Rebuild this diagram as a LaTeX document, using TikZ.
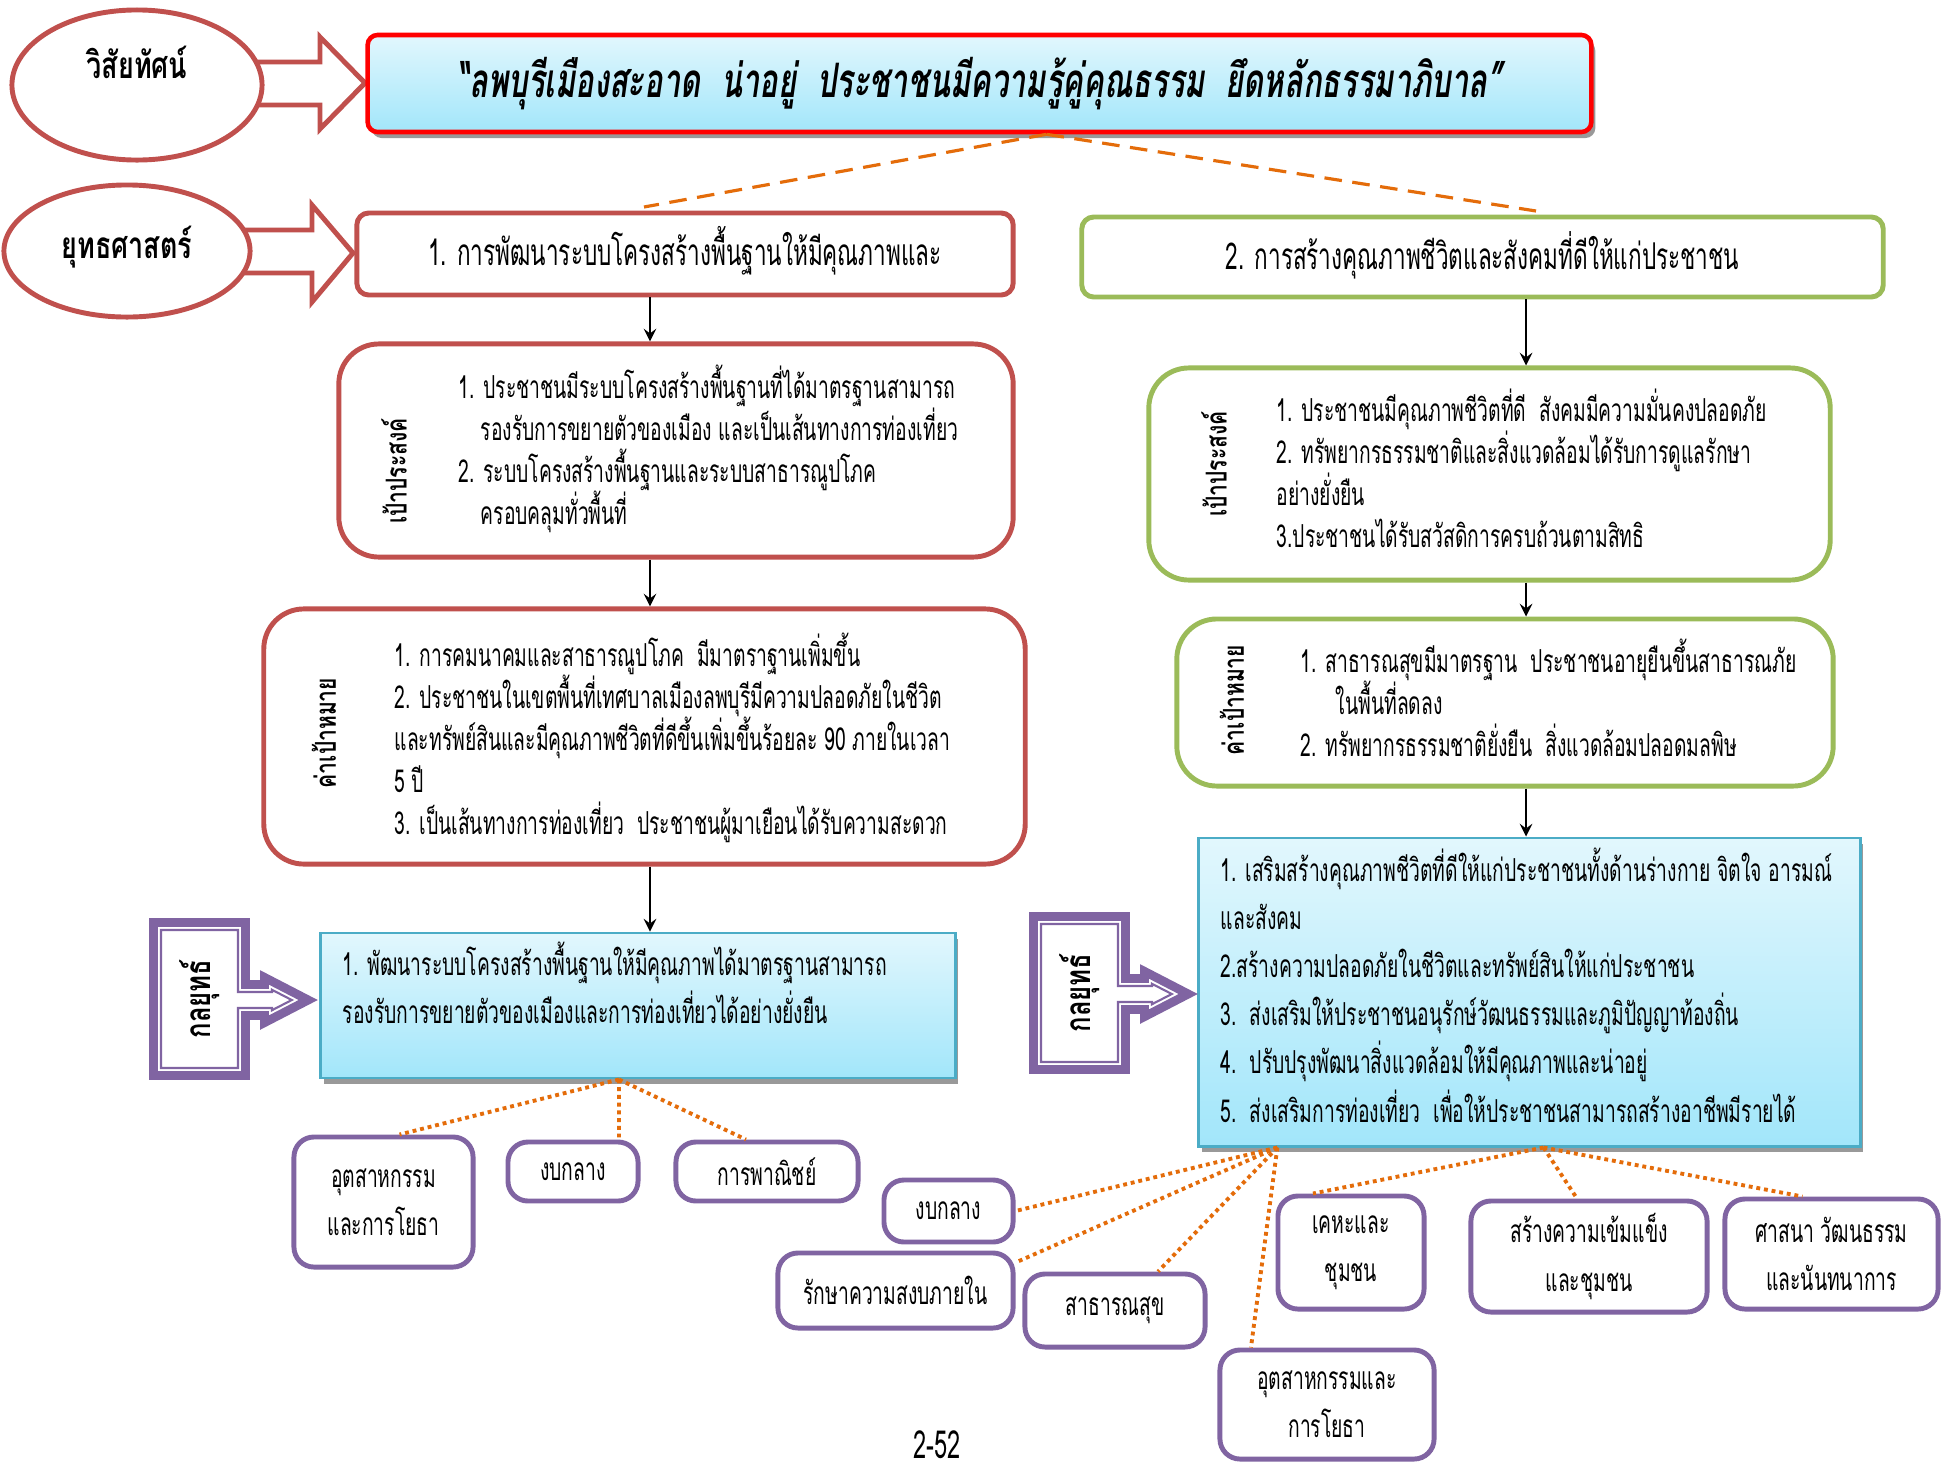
\documentclass[tikz,border=0pt]{standalone}
\usepackage{fontspec}
\usepackage{tikz}
\usetikzlibrary{shapes,arrows,positioning,calc,shadows}
\newfontfamily\thaifont[Script=Thai, FakeStretch=0.61]{Loma}
\newfontfamily\thaihead[Script=Thai, FakeStretch=0.65]{Loma}
\newfontfamily\thaibf[Script=Thai, FakeStretch=0.73]{Loma}
\definecolor{redline}{HTML}{C0504D}
\definecolor{greenline}{HTML}{9BBB59}
\definecolor{purpleline}{HTML}{8064A2}
\definecolor{tealline}{HTML}{4BACC6}
\definecolor{dotorange}{HTML}{E46C0A}
\definecolor{skytop}{HTML}{E2F7FD}
\definecolor{skybottom}{HTML}{A2E6FA}
\tikzset{
    tacticpic/.pic={
        \draw[purpleline, line width=2.5pt, fill=white, line join=miter]
            (4.5,4.5) -- (96.5,4.5) -- (96.5,66.5) -- (115.5,66.5) -- (115.5,59.4)
            -- (159.2,82) -- (115.5,104.6) -- (115.5,97.5) -- (96.5,97.5)
            -- (96.5,157.5) -- (4.5,157.5) -- cycle;
        \draw[purpleline, line width=0.6pt, line join=miter]
            (12,12) -- (89,12) -- (89,74) -- (123,74) -- (123,71.8) -- (142.8,82)
            -- (123,92.2) -- (123,90) -- (89,90) -- (89,150) -- (12,150) -- cycle;
        \node[tacticlabel] (label) at (51,81) {กลยุทธ์};
    }
}

\begin{document}
\begin{tikzpicture}[
    x=0.01cm, y=-0.01cm,
    arrow/.style={->, >=stealth, line width=0.6pt},
    dashlink/.style={draw=dotorange, line width=0.9pt, dash pattern=on 5pt off 3pt},
    dotlink/.style={draw=dotorange, line width=1.1pt, dash pattern=on 1.1pt off 1.1pt},
    oval/.style={ellipse, draw=redline, line width=1.4pt, fill=white, inner sep=0pt,
        font=\thaibf\bfseries\fontsize{10.5}{12}\selectfont},
    bigarrow/.style={draw=redline, line width=1.4pt, fill=white, line join=miter},
    visionbox/.style={rectangle, draw=red, line width=1.3pt, rounded corners=0.1cm,
        top color=skytop, bottom color=skybottom,
        drop shadow={shadow xshift=0.04cm, shadow yshift=-0.06cm, fill=black!40, opacity=1},
        font=\thaihead\bfseries\itshape\fontsize{13.5}{15}\selectfont},
    headbox/.style={rectangle, line width=1.4pt, fill=white, rounded corners=0.12cm,
        font=\thaifont\fontsize{10.5}{12}\selectfont},
    goalbox/.style={rectangle, line width=1.4pt, fill=white, rounded corners=0.4cm},
    planbox/.style={rectangle, draw=tealline, line width=0.8pt,
        top color=skytop, bottom color=skybottom,
        drop shadow={shadow xshift=0.03cm, shadow yshift=-0.06cm, fill=black!40, opacity=1}},
    bodytext/.style={anchor=north west, inner sep=0pt, align=left,
        font=\thaifont\fontsize{9}{11.95}\selectfont},
    plantext/.style={anchor=north west, inner sep=0pt, align=left,
        font=\thaifont\fontsize{9}{13.7}\selectfont},
    sidelabel/.style={rotate=90, inner sep=0pt,
        font=\thaibf\bfseries\fontsize{8.2}{10}\selectfont},
    tacticlabel/.style={rotate=90, inner sep=0pt,
        font=\thaibf\bfseries\fontsize{10}{12}\selectfont},
    unitbox/.style={rectangle, draw=purpleline, line width=1.4pt, fill=white,
        rounded corners=0.2cm, align=center, inner sep=0pt,
        font=\thaifont\fontsize{9}{13.7}\selectfont}
]
    \path[use as bounding box, fill=white] (0,0) rectangle (1942,1463);

    % Vision
    \draw[bigarrow] (240,62) -- (320,62) -- (320,37) -- (365,83) -- (320,129) -- (320,105) -- (240,105) -- cycle;
    \node[oval, minimum width=2.5cm, minimum height=1.5cm] (vision) at (137,85) {\raisebox{13pt}{วิสัยทัศน์}};
    \node[visionbox, minimum width=12.23cm, minimum height=0.97cm] (visbox) at (979.5,83.5)
        {“ลพบุรีเมืองสะอาด\ \ น่าอยู่\ \ ประชาชนมีความรู้คู่คุณธรรม\ \ ยึดหลักธรรมาภิบาล”};

    % Strategy
    \draw[bigarrow] (230,230) -- (312,230) -- (312,205) -- (353,253) -- (312,302) -- (312,273) -- (230,273) -- cycle;
    \node[oval, minimum width=2.46cm, minimum height=1.32cm] (strategy) at (127,251) {\raisebox{5pt}{ยุทธศาสตร์}};

    \node[headbox, draw=redline, minimum width=6.56cm, minimum height=0.82cm] (box1) at (685,254)
        {\raisebox{4.5pt}{1. การพัฒนาระบบโครงสร้างพื้นฐานให้มีคุณภาพและ}};
    \node[headbox, draw=greenline, minimum width=8.01cm, minimum height=0.8cm] (box2) at (1482.5,257)
        {\raisebox{3.5pt}{2. การสร้างคุณภาพชีวิตและสังคมที่ดีให้แก่ประชาชน}};

    \coordinate (dashL) at (644,207);
    \coordinate (dashR) at (1536,211);
    \draw[dashlink] ([xshift=0.67cm]visbox.south) -- (dashL);
    \draw[dashlink] ([xshift=0.67cm]visbox.south) -- (dashR);

    % Left column
    \node[goalbox, draw=redline, minimum width=6.74cm, minimum height=2.13cm] (objL) at (676,450.5) {};
    \node[sidelabel] (objLlabel) at (394,471) {เป้าประสงค์};
    \node[bodytext] (objLtext) at (458,364) {1. ประชาชนมีระบบโครงสร้างพื้นฐานที่ได้มาตรฐานสามารถ\\
        \hspace*{0.22cm}รองรับการขยายตัวของเมือง และเป็นเส้นทางการท่องเที่ยว\\
        2. ระบบโครงสร้างพื้นฐานและระบบสาธารณูปโภค\\
        \hspace*{0.22cm}ครอบคลุมทั่วพื้นที่};

    \node[goalbox, draw=redline, minimum width=7.61cm, minimum height=2.55cm] (targetL) at (644.5,736.5) {};
    \node[sidelabel] (targetLlabel) at (324,733) {ค่าเป้าหมาย};
    \node[bodytext] (targetLtext) at (394,632) {1. การคมนาคมและสาธารณูปโภค\ \ มีมาตราฐานเพิ่มขึ้น\\
        2. ประชาชนในเขตพื้นที่เทศบาลเมืองลพบุรีมีความปลอดภัยในชีวิต\\
        และทรัพย์สินและมีคุณภาพชีวิตที่ดีขึ้นเพิ่มขึ้นร้อยละ 90 ภายในเวลา\\
        5 ปี\\
        3. เป็นเส้นทางการท่องเที่ยว\ \ ประชาชนผู้มาเยือนได้รับความสะดวก};

    \node[planbox, minimum width=6.34cm, minimum height=1.45cm] (stratL) at (638,1005.5) {};
    \node[plantext] (stratLtext) at (342,941) {1. พัฒนาระบบโครงสร้างพื้นฐานให้มีคุณภาพได้มาตรฐานสามารถ\\
        รองรับการขยายตัวของเมืองและการท่องเที่ยวได้อย่างยั่งยืน};
    \pic (tacL) at (149,918) {tacticpic};

    % Right column
    \node[goalbox, draw=greenline, minimum width=6.81cm, minimum height=2.12cm] (objR) at (1489.5,474) {};
    \node[sidelabel] (objRlabel) at (1214,464) {เป้าประสงค์};
    \node[bodytext] (objRtext) at (1276,388) {1. ประชาชนมีคุณภาพชีวิตที่ดี\ \ สังคมมีความมั่นคงปลอดภัย\\
        2. ทรัพยากรธรรมชาติและสิ่งแวดล้อมได้รับการดูแลรักษา\\
        อย่างยั่งยืน\\
        3.ประชาชนได้รับสวัสดิการครบถ้วนตามสิทธิ};

    \node[goalbox, draw=greenline, minimum width=6.56cm, minimum height=1.67cm] (targetR) at (1505,702.5) {};
    \node[sidelabel] (targetRlabel) at (1232,700) {ค่าเป้าหมาย};
    \node[bodytext] (targetRtext) at (1300,638) {1. สาธารณสุขมีมาตรฐาน\ \ ประชาชนอายุยืนขึ้นสาธารณภัย\\
        \hspace*{0.35cm}ในพื้นที่ลดลง\\
        2. ทรัพยากรธรรมชาติยั่งยืน\ \ สิ่งแวดล้อมปลอดมลพิษ};

    \node[planbox, minimum width=6.61cm, minimum height=3.08cm] (stratR) at (1529.5,992) {};
    \node[plantext] (stratRtext) at (1220,847) {1. เสริมสร้างคุณภาพชีวิตที่ดีให้แก่ประชาชนทั้งด้านร่างกาย จิตใจ อารมณ์\\
        และสังคม\\
        2.สร้างความปลอดภัยในชีวิตและทรัพย์สินให้แก่ประชาชน\\
        3.\ \ ส่งเสริมให้ประชาชนอนุรักษ์วัฒนธรรมและภูมิปัญญาท้องถิ่น\\
        4.\ \ ปรับปรุงพัฒนาสิ่งแวดล้อมให้มีคุณภาพและน่าอยู่\\
        5.\ \ ส่งเสริมการท่องเที่ยว\ \ เพื่อให้ประชาชนสามารถสร้างอาชีพมีรายได้};
    \pic (tacR) at (1029,912) {tacticpic};

    % Units, left
    \node[unitbox, minimum width=1.79cm, minimum height=1.3cm] (bl1) at (383.5,1202) {อุตสาหกรรม\\และการโยธา};
    \node[unitbox, minimum width=1.3cm, minimum height=0.59cm] (bl2) at (573,1171.5) {งบกลาง};
    \node[unitbox, minimum width=1.82cm, minimum height=0.59cm] (bl3) at (767,1171.5) {\raisebox{-1.5pt}{การพาณิชย์}};

    % Units, right
    \node[unitbox, minimum width=1.29cm, minimum height=0.62cm] (br1) at (948.5,1211) {งบกลาง};
    \node[unitbox, minimum width=2.35cm, minimum height=0.75cm] (br2) at (895.5,1290.5) {รักษาความสงบภายใน};
    \node[unitbox, minimum width=1.8cm, minimum height=0.73cm] (br3) at (1115,1310.5) {สาธารณสุข};
    \node[unitbox, minimum width=2.14cm, minimum height=1.09cm] (br4) at (1327,1404.5) {อุตสาหกรรมและ\\การโยธา};
    \node[unitbox, minimum width=1.46cm, minimum height=1.13cm] (br5) at (1351,1252.5) {เคหะและ\\ชุมชน};
    \node[unitbox, minimum width=2.36cm, minimum height=1.11cm] (br6) at (1589,1256.5) {สร้างความเข้มแข็ง\\และชุมชน};
    \node[unitbox, minimum width=2.13cm, minimum height=1.1cm] (br7) at (1831.5,1254) {ศาสนา วัฒนธรรม\\และนันทนาการ};

    \node[font=\thaifont\fontsize{11}{12}\selectfont] (page) at (937,1445) {2-52};

    % Arrows
    \coordinate (colL) at (650,0);
    \coordinate (colR) at (1526,0);
    \draw[arrow] (box1.south -| colL) -- (objL.north -| colL);
    \draw[arrow] (objL.south -| colL) -- (targetL.north -| colL);
    \draw[arrow] (targetL.south -| colL) -- (stratL.north -| colL);
    \draw[arrow] (box2.south -| colR) -- (objR.north -| colR);
    \draw[arrow] (objR.south -| colR) -- (targetR.north -| colR);
    \draw[arrow] (targetR.south -| colR) -- (stratR.north -| colR);

    % Dotted links
    \draw[dotlink] ([xshift=-0.19cm]stratL.south) -- ([xshift=0.16cm]bl1.north);
    \draw[dotlink] ([xshift=-0.19cm]stratL.south) -- ([xshift=0.46cm]bl2.north);
    \draw[dotlink] ([xshift=-0.19cm]stratL.south) -- ([xshift=-0.21cm]bl3.north);
    \draw[dotlink] ([xshift=-2.52cm]stratR.south) -- (br1.east);
    \draw[dotlink] ([xshift=-2.52cm]stratR.south) -- ([yshift=-0.12cm]br2.north east);
    \draw[dotlink] ([xshift=-2.52cm]stratR.south) -- ([xshift=0.43cm]br3.north);
    \draw[dotlink] ([xshift=-2.52cm]stratR.south) -- ([xshift=-0.76cm]br4.north);
    \draw[dotlink] ([xshift=0.14cm]stratR.south) -- ([xshift=-0.38cm]br5.north);
    \draw[dotlink] ([xshift=0.14cm]stratR.south) -- ([xshift=-0.12cm]br6.north);
    \draw[dotlink] ([xshift=0.14cm]stratR.south) -- ([xshift=-0.29cm]br7.north);
\end{tikzpicture}
\end{document}
